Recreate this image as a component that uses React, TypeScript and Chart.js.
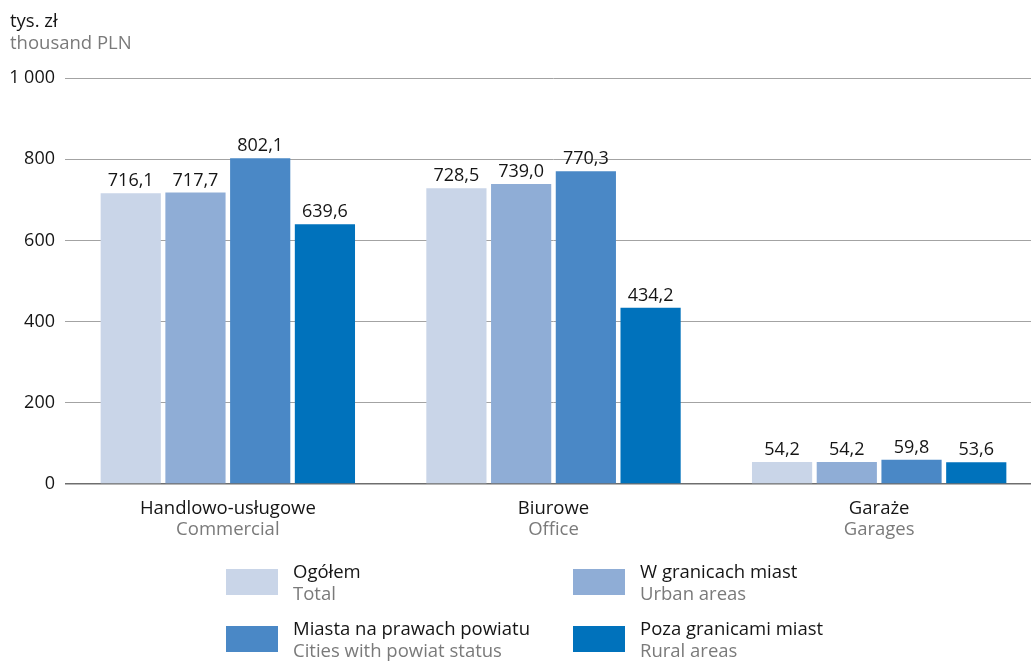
import React, { useEffect, useRef } from "react";
import { Chart, registerables } from "chart.js";

Chart.register(...registerables);

const categoriesPl = ["Handlowo-usługowe", "Biurowe", "Garaże"];
const categoriesEn = ["Commercial", "Office", "Garages"];
const seriesPl = ["Ogółem", "W granicach miast", "Miasta na prawach powiatu", "Poza granicami miast"];
const seriesEn = ["Total", "Urban areas", "Cities with powiat status", "Rural areas"];
const colors = ["#C9D5E8", "#8FADD6", "#4A88C6", "#0072BC"];
const totalVals = [716.1, 728.5, 54.2];
const urbanVals = [717.7, 739.0, 54.2];
const citiesVals = [802.1, 770.3, 59.8];
const ruralVals = [639.6, 434.2, 53.6];
const yTicks = [0, 200, 400, 600, 800, 1000];

const FONT = "'Open Sans', sans-serif";
const DARK = "#151515";
const GRAY = "#7a7a7a";
const TXT = 18.5;
const VAL = 18;

const fmtVal = (v: number) => v.toFixed(1).replace(".", ",");
const fmtTick = (v: number) => (v >= 1000 ? String(v).replace(/\B(?=(\d{3})+(?!\d))/g, " ") : String(v));

const overlayPlugin = {
  id: "overlay",
  afterDatasetsDraw(chart: any) {
    const ctx = chart.ctx;
    ctx.save();
    // value labels
    ctx.font = `${VAL}px ${FONT}`;
    ctx.fillStyle = DARK;
    ctx.textAlign = "center";
    ctx.textBaseline = "alphabetic";
    chart.data.datasets.forEach((ds: any, di: number) => {
      const meta = chart.getDatasetMeta(di);
      meta.data.forEach((el: any, i: number) => {
        ctx.fillText(fmtVal(ds.data[i]), el.x, el.y - 7);
      });
    });
    // category labels
    const xs = chart.scales.x;
    ctx.font = `${TXT}px ${FONT}`;
    categoriesPl.forEach((c, i) => {
      const x = xs.getPixelForValue(i);
      ctx.fillStyle = DARK;
      ctx.fillText(c, x, 514);
      ctx.fillStyle = GRAY;
      ctx.fillText(categoriesEn[i], x, 535);
    });
    // unit title
    ctx.textAlign = "left";
    ctx.fillStyle = DARK;
    ctx.fillText("tys. zł", 10, 27);
    ctx.fillStyle = GRAY;
    ctx.fillText("thousand PLN", 10, 49);
    // legend
    const pos = [
      [226, 569],
      [573, 569],
      [226, 626],
      [573, 626],
    ];
    [0, 1, 2, 3].forEach((si, k) => {
      const [lx, ly] = pos[k];
      ctx.fillStyle = colors[si];
      ctx.fillRect(lx, ly, 52, 26);
      ctx.fillStyle = DARK;
      ctx.fillText(seriesPl[si], lx + 67, ly + 9);
      ctx.fillStyle = GRAY;
      ctx.fillText(seriesEn[si], lx + 67, ly + 31);
    });
    ctx.restore();
  },
};

export default function App() {
  const ref = useRef<HTMLCanvasElement | null>(null);
  useEffect(() => {
    document.body.style.margin = "0";
    document.body.style.overflow = "hidden";
    const canvas = ref.current!;
    const vals = [totalVals, urbanVals, citiesVals, ruralVals];
    const chart = new Chart(canvas, {
      type: "bar",
      data: {
        labels: categoriesPl,
        datasets: vals.map((d, i) => ({
          label: seriesPl[i],
          data: d,
          backgroundColor: colors[i],
          borderWidth: 0,
          barPercentage: 0.93,
          categoryPercentage: 0.795,
        })),
      },
      options: {
        responsive: false,
        animation: false,
        layout: { padding: { top: 78, left: 0, right: 0, bottom: 0 } },
        plugins: { legend: { display: false }, tooltip: { enabled: false }, title: { display: false } },
        scales: {
          x: {
            grid: { display: false },
            border: { display: false },
            ticks: { display: false },
            afterFit: (s: any) => {
              s.height = 177;
            },
          },
          y: {
            min: 0,
            max: 1000,
            afterBuildTicks: (s: any) => {
              s.ticks = yTicks.map((v) => ({ value: v }));
            },
            afterFit: (s: any) => {
              s.width = 65;
            },
            border: { display: false },
            grid: {
              drawTicks: false,
              color: (c: any) => (c.tick && c.tick.value === 0 ? "#6e6e6e" : "#a3a3a3"),
              lineWidth: (c: any) => (c.tick && c.tick.value === 0 ? 1.5 : 1),
            },
            ticks: {
              padding: 10,
              color: DARK,
              font: { family: "'Open Sans', sans-serif", size: 18 },
              callback: (v: any) => fmtTick(Number(v)),
            },
          },
        },
      },
      plugins: [overlayPlugin],
    });
    return () => chart.destroy();
  }, []);
  return (
    <div style={{ position: "absolute", left: 0, top: 0, width: 1042, height: 661 }}>
      <canvas ref={ref} width={1042} height={661} />
    </div>
  );
}
